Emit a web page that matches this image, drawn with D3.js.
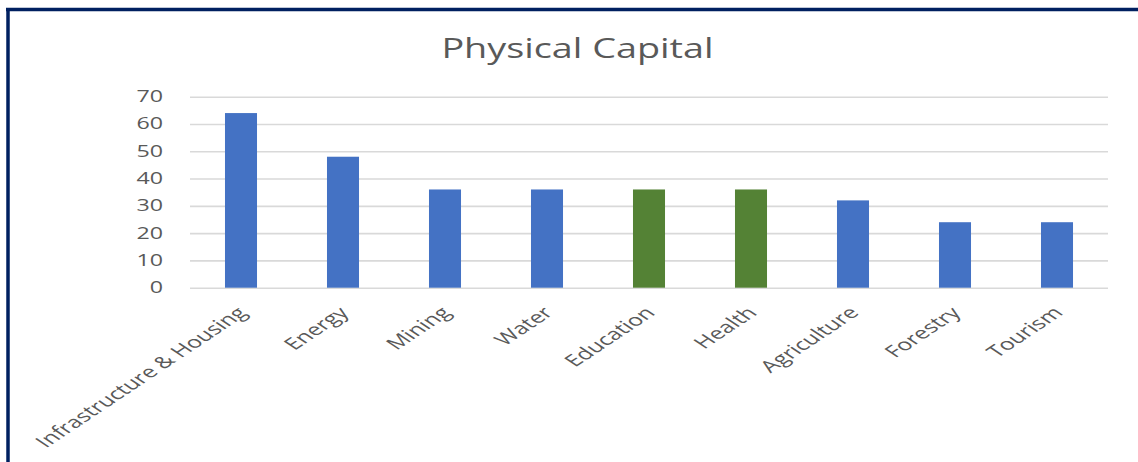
<!DOCTYPE html>
<html>
<head>
<meta charset="utf-8">
<script src="https://d3js.org/d3.v7.min.js"></script>
<style>
  html, body { margin: 0; padding: 0; background: #fff; }
  svg { display: block; }
</style>
</head>
<body>
<svg id="chart" width="1138" height="462"></svg>
<script>
// Sectors and their physical capital scores
const categories = ["Infrastructure & Housing", "Energy", "Mining", "Water", "Education", "Health", "Agriculture", "Forestry", "Tourism"];
const values = [64, 48, 36, 36, 36, 36, 32, 24, 24];
// Social sectors are highlighted in green
const groups = ["core", "core", "core", "core", "social", "social", "core", "core", "core"];
const yTicks = [0, 10, 20, 30, 40, 50, 60, 70];
const titleText = "Physical Capital";

const W = 1138, H = 462;
const svg = d3.select("#chart");
const font = "'Open Sans', 'Noto Sans', sans-serif";
const textColor = "#595959";

// frame: top and left rules
svg.append("line").attr("x1", 6).attr("x2", W).attr("y1", 9.5).attr("y2", 9.5)
  .attr("stroke", "#002060").attr("stroke-width", 3.5);
svg.append("line").attr("x1", 8).attr("x2", 8).attr("y1", 8).attr("y2", H)
  .attr("stroke", "#002060").attr("stroke-width", 3.5);

const x = d3.scaleBand().domain(categories).range([190, 1108])
  .paddingInner(0.686).paddingOuter(0.343);
const y = d3.scaleLinear().domain([0, 70]).range([287.7, 96.7]);
const color = d3.scaleOrdinal().domain(["core", "social"]).range(["#4472C4", "#548235"]);

// title (wide lettering)
svg.append("text")
  .attr("transform", "translate(577.5,58) scale(1.4,1)")
  .attr("text-anchor", "middle")
  .attr("font-family", font).attr("font-size", 27)
  .attr("fill", textColor)
  .text(titleText);

// gridlines
const yAxis = d3.axisLeft(y).tickValues(yTicks).tickSize(-(1108 - 190)).tickFormat("");
const gGrid = svg.append("g").attr("transform", "translate(190,0)").call(yAxis);
gGrid.select(".domain").remove();
gGrid.selectAll(".tick line").attr("stroke", "#d9d9d9").attr("stroke-width", 1.6);

// y tick labels
svg.append("g").selectAll("text").data(yTicks).join("text")
  .attr("transform", d => `translate(163,${y(d) + 5.5}) scale(1.5,1)`)
  .attr("text-anchor", "end")
  .attr("font-family", font).attr("font-size", 15.5)
  .attr("fill", textColor)
  .text(d => d);

// bars
svg.append("g").selectAll("rect").data(categories).join("rect")
  .attr("x", d => x(d))
  .attr("width", x.bandwidth())
  .attr("y", (d, i) => y(values[i]))
  .attr("height", (d, i) => y(0) - y(values[i]))
  .attr("fill", (d, i) => color(groups[i]));

// category labels, rotated
svg.append("g").selectAll("text").data(categories).join("text")
  .attr("transform", d => `translate(${x(d) + x.bandwidth() / 2 + 1},${y(0) + 22}) scale(1.5,1) rotate(-45)`)
  .attr("text-anchor", "end")
  .attr("dy", "0.35em")
  .attr("font-family", font).attr("font-size", 16.5)
  .attr("fill", textColor)
  .text(d => d);
</script>
</body>
</html>
